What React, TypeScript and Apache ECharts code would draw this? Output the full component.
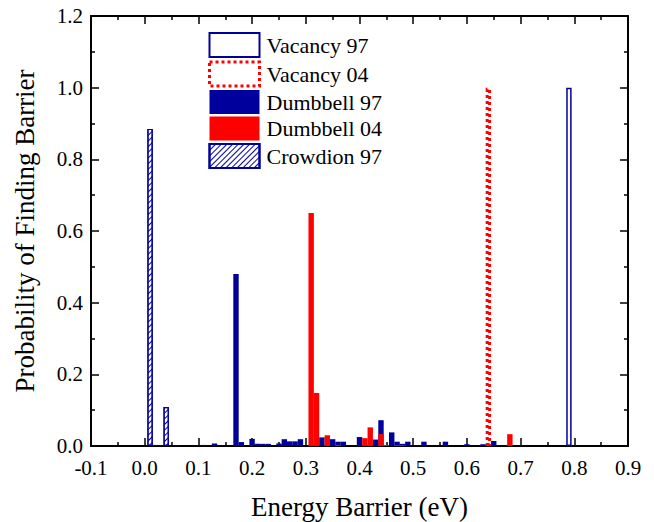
import React, { useEffect, useRef } from "react";
import * as echarts from "echarts";

const xTicks = [-0.1, 0.0, 0.1, 0.2, 0.3, 0.4, 0.5, 0.6, 0.7, 0.8, 0.9];
const yTicks = [0.0, 0.2, 0.4, 0.6, 0.8, 1.0, 1.2];

const vacancy97: [number, number][] = [[0.79, 1.0]];
const vacancy04: [number, number][] = [[0.64, 1.0]];
const dumbbell97: [number, number][] = [
  [0.02, 0.003], [0.03, 0.002], [0.06, 0.002], [0.11, 0.003], [0.13, 0.007],
  [0.17, 0.48], [0.18, 0.011], [0.2, 0.02], [0.21, 0.006], [0.22, 0.006],
  [0.23, 0.006], [0.25, 0.007], [0.26, 0.019], [0.27, 0.013], [0.28, 0.013],
  [0.29, 0.019], [0.33, 0.024], [0.35, 0.019], [0.36, 0.012], [0.37, 0.012],
  [0.4, 0.025], [0.43, 0.018], [0.44, 0.072], [0.46, 0.038], [0.47, 0.012],
  [0.48, 0.006], [0.49, 0.012], [0.52, 0.012], [0.56, 0.012], [0.6, 0.005],
  [0.63, 0.005], [0.65, 0.014],
];
const dumbbell04: [number, number][] = [
  [0.31, 0.65], [0.32, 0.148], [0.34, 0.03], [0.36, 0.003], [0.41, 0.022],
  [0.42, 0.052], [0.44, 0.033], [0.45, 0.003], [0.47, 0.002], [0.48, 0.002],
  [0.68, 0.033],
];
const crowdion97: [number, number][] = [[0.01, 0.885], [0.04, 0.109]];

const NAVY = "#00009C";
const RED = "#FF0000";
const FONT = "Times New Roman, Liberation Serif, serif";

export default function App() {
  const ref = useRef<HTMLDivElement>(null);
  useEffect(() => {
    if (!ref.current) return;
    const chart = echarts.init(ref.current, undefined, { renderer: "svg" });
    const barW = 5.4;
    const axisCommon = {
      axisLine: { show: true, onZero: false, lineStyle: { color: "#000", width: 2 } },
      axisTick: { show: true, inside: true, length: 8, lineStyle: { color: "#000", width: 1.5 } },
      minorTick: { show: true, splitNumber: 2, length: 4, lineStyle: { color: "#000", width: 1.5 } },
      splitLine: { show: false },
    };
    const vac04Style = { color: "rgba(255,255,255,0)", borderColor: RED, borderWidth: 3, borderType: [3, 3] };
    chart.setOption({
      animation: false,
      backgroundColor: "#fff",
      textStyle: { fontFamily: FONT },
      grid: { left: 91, right: 26, top: 16, bottom: 76, containLabel: false, outerBoundsMode: "none" },
      legend: {
        orient: "vertical",
        left: 208,
        top: 32,
        padding: 0,
        icon: "rect",
        itemWidth: 50,
        itemHeight: 24,
        itemGap: 2.5,
        textStyle: { fontFamily: FONT, fontSize: 22, color: "#000", padding: [0, 0, 0, 2] },
        data: [
          { name: "Vacancy 97" },
          { name: "Vacancy 04", itemStyle: vac04Style },
          { name: "Dumbbell 97" },
          { name: "Dumbbell 04" },
          { name: "Crowdion 97" },
        ],
      },
      xAxis: [
        {
          type: "value",
          min: -0.1,
          max: 0.9,
          interval: 0.1,
          position: "bottom",
          name: "Energy Barrier (eV)",
          nameLocation: "middle",
          nameGap: 47,
          nameTextStyle: { fontFamily: FONT, fontSize: 27, color: "#000" },
          axisLabel: {
            fontFamily: FONT,
            fontSize: 21,
            color: "#000",
            margin: 11,
            formatter: (v: number) => {
              const t = xTicks.find((k) => Math.abs(k - v) < 1e-6);
              return (t !== undefined ? t : v).toFixed(1);
            },
          },
          ...axisCommon,
        },
        {
          type: "value",
          min: -0.1,
          max: 0.9,
          interval: 0.1,
          position: "top",
          axisLabel: { show: false },
          ...axisCommon,
        },
      ],
      yAxis: [
        {
          type: "value",
          min: 0,
          max: 1.2,
          interval: 0.2,
          position: "left",
          name: "Probability of Finding Barrier",
          nameLocation: "middle",
          nameGap: 53,
          nameTextStyle: { fontFamily: FONT, fontSize: 27, color: "#000" },
          axisLabel: {
            fontFamily: FONT,
            fontSize: 21,
            color: "#000",
            margin: 8,
            formatter: (v: number) => {
              const t = yTicks.find((k) => Math.abs(k - v) < 1e-6);
              return (t !== undefined ? t : v).toFixed(1);
            },
          },
          ...axisCommon,
        },
        {
          type: "value",
          min: 0,
          max: 1.2,
          interval: 0.2,
          position: "right",
          axisLabel: { show: false },
          ...axisCommon,
        },
      ],
      series: [
        {
          name: "Vacancy 97",
          type: "bar",
          barWidth: barW,
          barGap: "-100%",
          data: vacancy97,
          itemStyle: { color: "#fff", borderColor: NAVY, borderWidth: 1.5 },
        },
        {
          name: "Dumbbell 97",
          type: "bar",
          barWidth: barW,
          barGap: "-100%",
          data: dumbbell97,
          itemStyle: { color: NAVY },
        },
        {
          name: "Dumbbell 04",
          type: "bar",
          barWidth: barW,
          barGap: "-100%",
          data: dumbbell04,
          itemStyle: { color: RED },
        },
        {
          name: "Vacancy 04",
          type: "bar",
          barWidth: barW,
          barGap: "-100%",
          data: vacancy04,
          itemStyle: vac04Style,
        },
        {
          name: "Crowdion 97",
          type: "bar",
          barWidth: barW,
          barGap: "-100%",
          data: crowdion97,
          itemStyle: {
            color: "#fff",
            borderColor: NAVY,
            borderWidth: 1.2,
            decal: {
              symbol: "rect",
              symbolSize: 1,
              color: NAVY,
              backgroundColor: "#fff",
              dashArrayX: [1, 0],
              dashArrayY: [1, 2.5],
              rotation: -Math.PI / 4,
            },
          },
        },
      ],
    });
    return () => chart.dispose();
  }, []);
  return (
    <div
      ref={ref}
      style={{ width: 654, height: 522, position: "absolute", left: 0, top: 0 }}
    />
  );
}
